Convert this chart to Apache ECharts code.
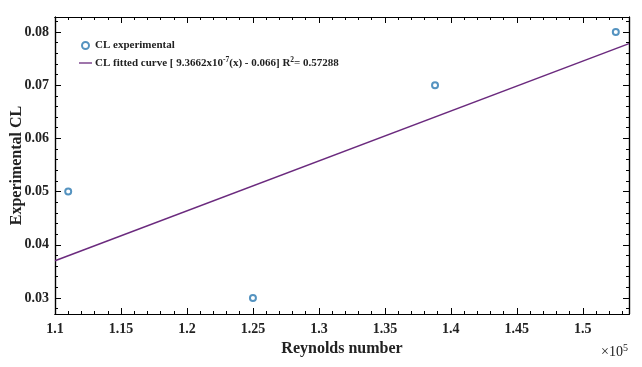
<!DOCTYPE html>
<html>
<head>
<meta charset="utf-8">
<script src="https://cdn.jsdelivr.net/npm/echarts@6/dist/echarts.min.js"></script>
<style>
 html, body { margin: 0; padding: 0; background: #fff; }
 #chart { width: 642px; height: 367px; }
</style>
</head>
<body>
<div id="chart"></div>
<script>
// Reynolds number in units of 1e5
const expX = [1.11, 1.25, 1.388, 1.525]
const expCL = [0.05, 0.03, 0.07, 0.08]
const fitX = [1.1, 1.535]
const fitCL = [0.0370, 0.0778]
const xTicks = [1.1, 1.15, 1.2, 1.25, 1.3, 1.35, 1.4, 1.45, 1.5]
const yTicks = [0.03, 0.04, 0.05, 0.06, 0.07, 0.08]

const X_MIN = 1.1, X_MAX = 1.535
const Y_MIN = 0.027, Y_MAX = 0.0828

const xMinor = []
for (let i = 0; 1.1 + i * 0.01 <= X_MAX; i++) xMinor.push(+(1.1 + i * 0.01).toFixed(2))
const yMinor = []
for (let i = 0; 0.028 + i * 0.002 <= Y_MAX; i++) yMinor.push(+(0.028 + i * 0.002).toFixed(3))

const serif = '"Liberation Serif", "DejaVu Serif", serif'
const fmtX = v => String(+v.toFixed(2))
const fmtY = v => v.toFixed(2)
const EXP_NAME = 'CL experimental'
const FIT_NAME = 'CL fitted curve'

const makeX = (pos, ticks, len, labels) => ({
 type: 'value', position: pos, min: X_MIN, max: X_MAX,
 axisLine: { show: true, onZero: false, lineStyle: { color: '#000', width: 1.2 } },
 axisTick: { show: true, inside: true, length: len, customValues: ticks, lineStyle: { color: '#000' } },
 axisLabel: labels ? {
  show: true, customValues: xTicks, formatter: fmtX, margin: 8,
  fontFamily: serif, fontWeight: 'bold', fontSize: 14, color: '#222'
 } : { show: false },
 splitLine: { show: false }
})
const makeY = (pos, ticks, len, labels) => ({
 type: 'value', position: pos, min: Y_MIN, max: Y_MAX,
 axisLine: { show: true, onZero: false, lineStyle: { color: '#000', width: 1.2 } },
 axisTick: { show: true, inside: true, length: len, customValues: ticks, lineStyle: { color: '#000' } },
 axisLabel: labels ? {
  show: true, customValues: yTicks, formatter: fmtY, margin: 6,
  fontFamily: serif, fontWeight: 'bold', fontSize: 14, color: '#222'
 } : { show: false },
 splitLine: { show: false }
})

const xAxes = [
 makeX('bottom', xTicks, 6, true),
 makeX('bottom', xMinor, 3, false),
 makeX('top', xTicks, 6, false),
 makeX('top', xMinor, 3, false)
]
Object.assign(xAxes[0], {
 name: 'Reynolds number', nameLocation: 'middle', nameGap: 27, nameMoveOverlap: false,
 nameTextStyle: { fontFamily: serif, fontWeight: 'bold', fontSize: 16, color: '#222' }
})

const yAxes = [
 makeY('left', yTicks, 6, true),
 makeY('left', yMinor, 3, false),
 makeY('right', yTicks, 6, false),
 makeY('right', yMinor, 3, false)
]
Object.assign(yAxes[0], {
 name: 'Experimental CL', nameLocation: 'middle', nameGap: 30, nameMoveOverlap: false,
 nameTextStyle: { fontFamily: serif, fontWeight: 'bold', fontSize: 16, color: '#222' }
})

const option = {
 backgroundColor: '#fff',
 animation: false,
 grid: { left: 55, right: 13, top: 17, bottom: 53, outerBoundsMode: 'none', containLabel: false },
 legend: {
  orient: 'vertical', left: 74, top: 35, itemGap: 5,
  itemWidth: 13, itemHeight: 7,
  textStyle: {
   fontFamily: serif, fontWeight: 'bold', fontSize: 11, color: '#222', padding: [0, 0, 0, -2],
   rich: { sup: { fontFamily: serif, fontWeight: 'bold', fontSize: 7.5, verticalAlign: 'top', padding: [0, 0, 6, 0] } }
  },
  formatter: n => n === FIT_NAME
   ? 'CL fitted curve [ 9.3662x10{sup|-7}(x) - 0.066] R{sup|2}= 0.57288'
   : n,
  data: [
   { name: EXP_NAME, icon: 'emptyCircle', itemStyle: { borderWidth: 1.6 } },
   { name: FIT_NAME, icon: 'path://M0,0 L20,0 L20,2 L0,2 Z' }
  ]
 },
 xAxis: xAxes,
 yAxis: yAxes,
 graphic: [{
  type: 'text', right: 14, bottom: 8,
  style: {
   text: '\u00D710{s|5}',
   fontFamily: serif, fontSize: 14, fill: '#222',
   rich: { s: { fontFamily: serif, fontSize: 10, verticalAlign: 'top', padding: [0, 0, 8, 0] } }
  }
 }],
 series: [
  {
   name: EXP_NAME, type: 'scatter',
   data: expX.map((x, i) => [x, expCL[i]]),
   symbol: 'emptyCircle', symbolSize: 6,
   itemStyle: { color: '#2a78b0', borderColor: '#2a78b0', borderWidth: 1.8 }
  },
  {
   name: FIT_NAME, type: 'line',
   data: fitX.map((x, i) => [x, fitCL[i]]),
   symbol: 'none',
   lineStyle: { color: '#6b2a7e', width: 1.5 },
   itemStyle: { color: '#6b2a7e' }
  }
 ]
}

const chart = echarts.init(document.getElementById('chart'))
chart.setOption(option)
</script>
</body>
</html>
